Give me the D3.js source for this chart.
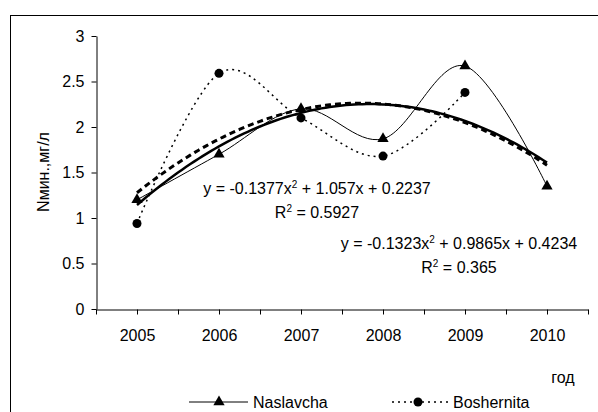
<!DOCTYPE html>
<html>
<head>
<meta charset="utf-8">
<script src="https://d3js.org/d3.v7.min.js"></script>
<style>
    body { margin: 0; background: #fff; }
    svg { background-color: white; font-family: "Liberation Sans", Arial, sans-serif; }
    .axis path, .axis line { stroke: #000; }
    .axis text { font-size: 16px; fill: #000; font-family: "Liberation Sans", Arial, sans-serif; }
</style>
</head>
<body>
<script>
    // Data
    var years = [2005, 2006, 2007, 2008, 2009, 2010];
    var naslavcha = [1.2, 1.7, 2.2, 1.87, 2.67, 1.35];
    var boshernita = [0.94, 2.59, 2.1, 1.68, 2.38, null];
    // trendline coefficients (a, b, c) as shown on the chart, x = 1..6
    var naslavchaTrend = [-0.1377, 1.057, 0.2237];
    var boshernitaTrend = [-0.1323, 0.9865, 0.4234];
    var trendLabels = [
        ["y = -0.1377x", " + 1.057x + 0.2237", "0.5927"],
        ["y = -0.1323x", " + 0.9865x + 0.4234", "0.365"]
    ];
    var yTicks = [0, 0.5, 1, 1.5, 2, 2.5, 3];

    var SVGWidth = 598, SVGHeight = 412;

    var svg = d3.select("body").append("svg")
        .attr("width", SVGWidth)
        .attr("height", SVGHeight);

    // chart frame (runs off the right and bottom edges)
    svg.append("rect")
        .attr("x", 10.5).attr("y", 15.5)
        .attr("width", 620).attr("height", 420)
        .attr("fill", "none").attr("stroke", "#000").attr("stroke-width", 1);

    var x = d3.scaleLinear().domain([2004.5, 2010.5]).range([96, 588]);
    var y = d3.scaleLinear().domain([0, 3]).range([309, 36]);

    // Axes
    svg.append("g")
        .attr("class", "axis")
        .attr("transform", "translate(0,309.5)")
        .call(d3.axisBottom(x)
            .tickValues(d3.range(2004.5, 2010.51, 0.5))
            .tickSize(5).tickSizeOuter(0).tickPadding(15)
            .tickFormat(function(d) { return d % 1 === 0 ? d : ""; }));

    svg.append("g")
        .attr("class", "axis")
        .attr("transform", "translate(96.5,0)")
        .call(d3.axisLeft(y)
            .tickValues(yTicks)
            .tickSize(5).tickSizeOuter(0).tickPadding(7)
            .tickFormat(function(d) { return d; }));

    // Axis titles
    svg.append("text")
        .attr("transform", "translate(49,172) rotate(-90)")
        .attr("text-anchor", "middle")
        .style("font-size", "16px")
        .text("Nмин.,мг/л");

    svg.append("text")
        .attr("x", 563).attr("y", 383)
        .attr("text-anchor", "middle")
        .style("font-size", "16px")
        .text("год");

    function poly(c, t) { return c[0] * t * t + c[1] * t + c[2]; }

    function trendPoints(c) {
        var pts = [];
        for (var t = 1; t <= 6.0001; t += 0.05) {
            pts.push([years[0] - 1 + t, poly(c, t)]);
        }
        return pts;
    }

    var trendLine = d3.line()
        .x(function(d) { return x(d[0]); })
        .y(function(d) { return y(d[1]); });

    var seriesLine = d3.line()
        .defined(function(d) { return d[1] != null; })
        .x(function(d) { return x(d[0]); })
        .y(function(d) { return y(d[1]); })
        .curve(d3.curveCatmullRom.alpha(0));

    var nasPts = years.map(function(d, i) { return [d, naslavcha[i]]; });
    var bosPts = years.map(function(d, i) { return [d, boshernita[i]]; })
        .filter(function(d) { return d[1] != null; });

    // Trendlines
    svg.append("path")
        .attr("d", trendLine(trendPoints(boshernitaTrend)))
        .attr("fill", "none").attr("stroke", "#000")
        .attr("stroke-width", 3).attr("stroke-dasharray", "6,4");

    svg.append("path")
        .attr("d", trendLine(trendPoints(naslavchaTrend)))
        .attr("fill", "none").attr("stroke", "#000")
        .attr("stroke-width", 2.5);

    // Series lines
    svg.append("path")
        .attr("d", seriesLine(nasPts))
        .attr("fill", "none").attr("stroke", "#000").attr("stroke-width", 1);

    svg.append("path")
        .attr("d", seriesLine(bosPts))
        .attr("fill", "none").attr("stroke", "#000")
        .attr("stroke-width", 1.5).attr("stroke-dasharray", "2,4");

    // Markers
    var tri = d3.symbol().type(d3.symbolTriangle).size(55);

    svg.selectAll(".tri")
        .data(nasPts)
        .enter().append("path")
        .attr("d", tri)
        .attr("transform", function(d) { return "translate(" + x(d[0]) + "," + y(d[1]) + ")"; })
        .attr("fill", "#000");

    svg.selectAll(".dot")
        .data(bosPts)
        .enter().append("circle")
        .attr("cx", function(d) { return x(d[0]); })
        .attr("cy", function(d) { return y(d[1]); })
        .attr("r", 4.5)
        .attr("fill", "#000");

    // Trendline equations
    var labelPos = [[317, 194, 218], [459, 249, 273]];
    trendLabels.forEach(function(lab, i) {
        var t1 = svg.append("text")
            .attr("x", labelPos[i][0]).attr("y", labelPos[i][1])
            .attr("text-anchor", "middle")
            .style("font-size", "16px");
        t1.append("tspan").text(lab[0]);
        t1.append("tspan").attr("dy", -6).style("font-size", "10px").text("2");
        t1.append("tspan").attr("dy", 6).text(lab[1]);

        var t2 = svg.append("text")
            .attr("x", labelPos[i][0]).attr("y", labelPos[i][2])
            .attr("text-anchor", "middle")
            .style("font-size", "16px");
        t2.append("tspan").text("R");
        t2.append("tspan").attr("dy", -6).style("font-size", "10px").text("2");
        t2.append("tspan").attr("dy", 6).text(" = " + lab[2]);
    });

    // Legend
    var legY = 402;
    svg.append("line")
        .attr("x1", 189).attr("x2", 248).attr("y1", legY).attr("y2", legY)
        .attr("stroke", "#000").attr("stroke-width", 1);
    svg.append("path")
        .attr("d", tri)
        .attr("transform", "translate(219," + legY + ")")
        .attr("fill", "#000");
    svg.append("text")
        .attr("x", 253).attr("y", legY + 6)
        .style("font-size", "16px")
        .text("Naslavcha");

    svg.append("line")
        .attr("x1", 392).attr("x2", 448).attr("y1", legY).attr("y2", legY)
        .attr("stroke", "#000").attr("stroke-width", 1.5).attr("stroke-dasharray", "2,4");
    svg.append("circle")
        .attr("cx", 418).attr("cy", legY).attr("r", 4.5)
        .attr("fill", "#000");
    svg.append("text")
        .attr("x", 453).attr("y", legY + 6)
        .style("font-size", "16px")
        .text("Boshernita");
</script>
</body>
</html>
